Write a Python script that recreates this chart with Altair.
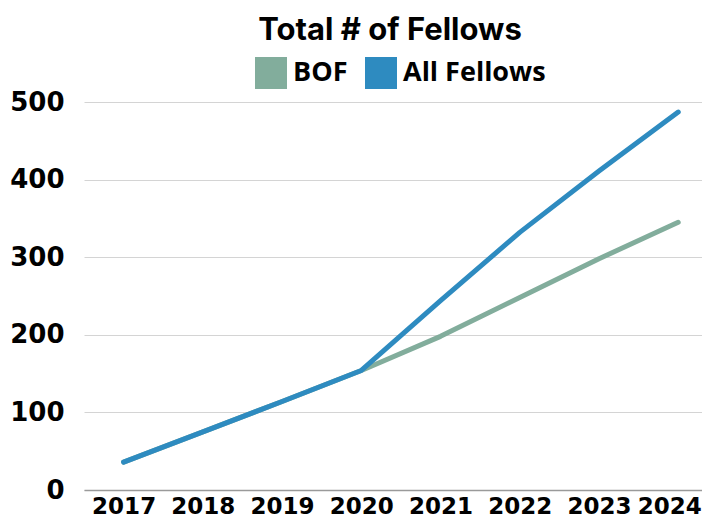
import altair as alt
import pandas as pd

years = [2017, 2018, 2019, 2020, 2021, 2022, 2023, 2024]
bof = [36, 75, 114, 154, 198, 248, 298, 345]
all_fellows = [36, 75, 114, 154, 244, 332, 411, 487]
series_names = ["BOF", "All Fellows"]
series_colors = ["#82AD9C", "#2E8BC0"]
y_ticks = [0, 100, 200, 300, 400, 500]

df_bof = pd.DataFrame({"Year": years, "Fellows": bof, "Series": "BOF"})
df_all = pd.DataFrame({"Year": years, "Fellows": all_fellows, "Series": "All Fellows"})

x_enc = alt.X(
    "Year:Q",
    scale=alt.Scale(domain=[2016.5, 2024.3], nice=False, zero=False),
    axis=alt.Axis(
        values=years, format="d", title=None, grid=False, ticks=False,
        domain=True, domainColor="#9a9a9a", domainWidth=1.5,
        labelFont="DejaVu Sans", labelFontWeight="bold", labelFontSize=23,
        labelColor="black", labelPadding=5,
        labelFlush=30, labelFlushOffset=23,
    ),
)
y_enc = alt.Y(
    "Fellows:Q",
    scale=alt.Scale(domain=[0, 500], nice=False),
    axis=alt.Axis(
        values=y_ticks, title=None, grid=True, gridColor="#d4d4d4", gridWidth=1,
        ticks=False, domain=False,
        labelFont="DejaVu Sans", labelFontWeight="bold", labelFontSize=26,
        labelColor="black", labelPadding=20,
    ),
)
color_enc = alt.Color(
    "Series:N",
    scale=alt.Scale(domain=series_names, range=series_colors),
    legend=alt.Legend(
        title=None, orient="none", direction="horizontal",
        legendX=171, legendY=-45,
        symbolType="square", symbolSize=256, symbolStrokeWidth=16,
        labelFont="Open Sans", labelFontWeight="bold", labelFontSize=27,
        labelColor="black", labelOffset=6, columnPadding=-7, padding=0,
    ),
)

line_bof = alt.Chart(df_bof).mark_line(strokeWidth=5, strokeCap="round", strokeJoin="round").encode(
    x=x_enc, y=y_enc, color=color_enc
)
line_all = alt.Chart(df_all).mark_line(strokeWidth=5, strokeCap="round", strokeJoin="round").encode(
    x=x_enc, y=y_enc, color=color_enc
)

chart = alt.layer(line_bof, line_all).properties(
    width=618, height=388,
    autosize=alt.AutoSizeParams(type="none"),
    title=alt.TitleParams(
        "Total # of Fellows", font="Inter", fontWeight="bold", fontSize=31,
        color="black", anchor="middle", dx=-3, offset=10,
    ),
    padding={"left": 76, "top": 94, "right": 0, "bottom": 29},
).configure_view(stroke=None)

chart.save("out.html", embed_options={"renderer": "svg", "actions": False})
